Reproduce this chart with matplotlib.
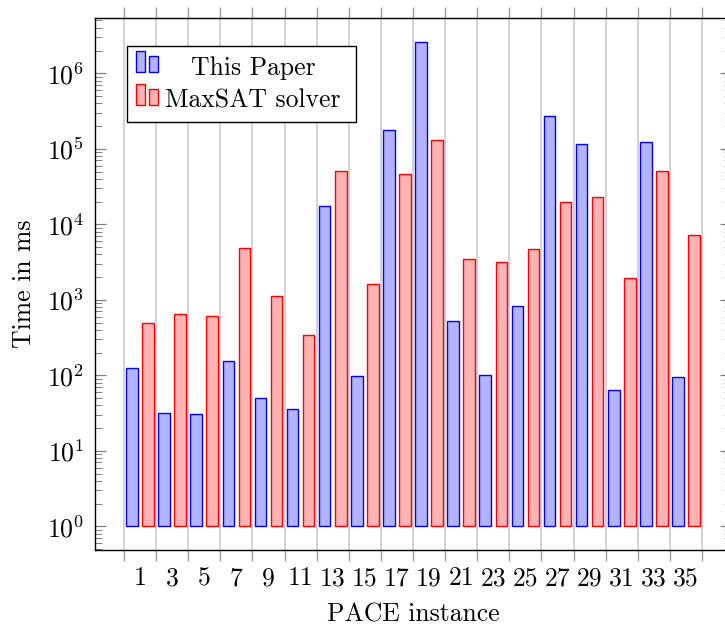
import matplotlib
matplotlib.use("Agg")
import matplotlib.pyplot as plt
from matplotlib.patches import Rectangle
from matplotlib.ticker import NullFormatter, LogLocator, FixedLocator
import numpy as np

plt.rcParams['font.family'] = ['cmr10', 'DejaVu Serif']
plt.rcParams['mathtext.fontset'] = 'cm'
plt.rcParams['axes.formatter.use_mathtext'] = True

instances = [1, 3, 5, 7, 9, 11, 13, 15, 17, 19, 21, 23, 25, 27, 29, 31, 33, 35]
this_paper = [124, 32, 31, 156, 50, 36, 17600, 97, 177000, 2580000, 528, 100,
              815, 274000, 117000, 63, 124000, 94]
maxsat = [489, 643, 610, 4900, 1110, 339, 50300, 1633, 46800, 131000, 3505, 3140,
          4750, 19550, 22800, 1930, 50800, 7280]
series_names = ["This Paper", "MaxSAT solver"]
xlabel = "PACE instance"
ylabel = "Time in ms"

W, H = 725, 627
fig = plt.figure(figsize=(W / 100, H / 100), dpi=100)
ax = fig.add_axes([95 / W, 1 - 550 / H, (731 - 95) / W, (550 - 17.7) / H])

x = np.array(instances, dtype=float)
fs = 18.5
blue_fill, blue_edge = '#b3b3ff', '#0000ff'
red_fill, red_edge = '#ffb3b3', '#ff0000'
bw = 0.72
base = 1.0
tp = np.array(this_paper, dtype=float)
ms = np.array(maxsat, dtype=float)
ax.bar(x - 0.5, tp - base, bottom=base, width=bw, color=blue_fill, edgecolor=blue_edge,
       linewidth=1.0, zorder=3)
ax.bar(x + 0.5, ms - base, bottom=base, width=bw, color=red_fill, edgecolor=red_edge,
       linewidth=1.0, zorder=3)

ax.set_yscale('log')
ax.set_xlim(-1.8, 37.8)
ax.set_ylim(10 ** -0.314, 10 ** 6.736)

# x ticks: major (grid) at even positions, labels at odd positions
ax.xaxis.set_major_locator(FixedLocator(np.arange(0, 37, 2)))
ax.xaxis.set_major_formatter(NullFormatter())
ax.set_xticks(instances, [str(i) for i in instances], minor=True)
ax.tick_params(axis='x', which='major', direction='out', length=8, width=1.0,
               color='#a0a0a0', top=True, bottom=True)
ax.tick_params(axis='x', which='minor', length=0, pad=12, labelsize=fs)
ax.grid(True, axis='x', which='major', color='#c8c8c8', linewidth=1.1, zorder=0)

ax.set_yticks([10 ** k for k in range(0, 7)])
ax.yaxis.set_minor_locator(LogLocator(base=10, subs=np.arange(2, 10)))
ax.yaxis.set_minor_formatter(NullFormatter())
ax.tick_params(axis='y', which='major', direction='in', length=7.7, width=0.9,
               color='#808080', left=True, right=True, labelsize=fs, pad=8)
ax.tick_params(axis='y', which='minor', direction='in', length=4.8, width=0.7,
               color='#808080', left=True, right=True)

for s in ax.spines.values():
    s.set_linewidth(1.0)
    s.set_color('black')

ax.set_xlabel(xlabel, fontsize=fs)
ax.set_ylabel(ylabel, fontsize=fs)
ax.xaxis.set_label_coords((253 - 95 + 160) / 636, -0.100)
ax.yaxis.set_label_coords(-0.092, 0.5)

# legend drawn manually
def fx(px):
    return px / W

def fy(py):
    return 1 - py / H

tr = fig.transFigure
fig.patches.append(Rectangle((fx(127.3), fy(122)), fx(356) - fx(127.3), fy(45.7) - fy(122),
                             transform=tr, facecolor='white', edgecolor='black',
                             linewidth=1.0, zorder=10))
icons = [((blue_fill, blue_edge), (51, 56.3, 72.3)), ((red_fill, red_edge), (84, 89, 105))]
for (fc, ec), (t1, t2, b) in icons:
    fig.patches.append(Rectangle((fx(135.7), fy(b)), fx(145) - fx(135.7), fy(t1) - fy(b),
                                 transform=tr, facecolor=fc, edgecolor=ec, linewidth=1.0, zorder=11))
    fig.patches.append(Rectangle((fx(149), fy(b)), fx(158.3) - fx(149), fy(t2) - fy(b),
                                 transform=tr, facecolor=fc, edgecolor=ec, linewidth=1.0, zorder=11))
fig.text(fx(253), fy(75), series_names[0], ha='center', va='baseline', fontsize=fs, zorder=12)
fig.text(fx(253), fy(107.3), series_names[1], ha='center', va='baseline', fontsize=fs, zorder=12)

fig.savefig("out.png", dpi=100)
